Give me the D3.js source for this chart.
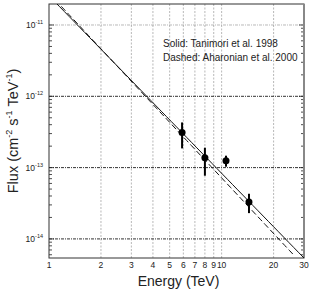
<!DOCTYPE html>
<html>
<head>
<meta charset="utf-8">
<script src="https://cdn.jsdelivr.net/npm/d3@7"></script>
<style>
  body { margin: 0; background: #fff; }
  text { font-family: "Liberation Sans", Arial, sans-serif; }
</style>
</head>
<body>
<script>
// data
var energy  = [5.9, 8.0, 10.6, 14.4]
var flux    = [3.1e-13, 1.38e-13, 1.25e-13, 3.3e-14]
var fluxLo  = [1.86e-13, 7.7e-14, 1.03e-13, 2.3e-14]
var fluxHi  = [4.3e-13, 1.9e-13, 1.47e-13, 4.3e-14]

// power laws: F = norm * E^-index
var solidFit  = { norm: 2.57e-11, index: 2.49, eMax: 30 }
var dashedFit = { norm: 2.79e-11, index: 2.59, eMax: 26.5 }

var xTicks = [1, 2, 3, 4, 5, 6, 7, 8, 9, 10, 20, 30]
var yDecades = [-11, -12, -13, -14]
var legendLines = ["Solid: Tanimori et al. 1998", "Dashed: Aharonian et al. 2000"]

var W = 313, H = 291
var m = { left: 49, right: 9, top: 4, bottom: 33 }
var w = W - m.left - m.right, h = H - m.top - m.bottom

var x = d3.scaleLog().domain([1, 30]).range([0, w])
var y = d3.scaleLog().domain([5.4e-15, 1.97e-11]).range([h, 0])

var svg = d3.select("body").append("svg")
    .attr("width", W).attr("height", H)
var g = svg.append("g").attr("transform", "translate(" + m.left + "," + m.top + ")")

g.append("clipPath").attr("id", "clip")
  .append("rect").attr("width", w).attr("height", h)

// vertical grid
g.append("g").selectAll("line")
  .data(xTicks.slice(1, -1))
  .enter().append("line")
    .attr("x1", d => x(d)).attr("x2", d => x(d))
    .attr("y1", 0).attr("y2", h)
    .style("stroke", "#999").style("stroke-width", 0.7)
    .style("stroke-dasharray", "2,1.5")

// horizontal grid at decades
g.append("g").selectAll("line")
  .data(yDecades)
  .enter().append("line")
    .attr("x1", 0).attr("x2", w)
    .attr("y1", d => y(Math.pow(10, d))).attr("y2", d => y(Math.pow(10, d)))
    .style("stroke", d => d == -11 ? "#999" : "#333")
    .style("stroke-width", d => d == -11 ? 0.7 : 1)
    .style("stroke-dasharray", "3,1,1,1")

// minor y ticks, both sides
var minors = []
for (var e = -15; e <= -11; e++)
  for (var k = 1; k < 10; k++) {
    var v = k * Math.pow(10, e)
    if (v >= y.domain()[0] && v <= y.domain()[1]) minors.push({ v: v, major: k == 1 })
  }
var tk = g.append("g")
minors.forEach(function(d) {
  var len = d.major ? 5 : 3
  tk.append("line").attr("x1", 0).attr("x2", len)
    .attr("y1", y(d.v)).attr("y2", y(d.v)).style("stroke", "#222").style("stroke-width", 0.8)
  tk.append("line").attr("x1", w).attr("x2", w - len)
    .attr("y1", y(d.v)).attr("y2", y(d.v)).style("stroke", "#222").style("stroke-width", 0.8)
})

// frame
g.append("rect").attr("width", w).attr("height", h)
  .style("fill", "none").style("stroke", "#333").style("stroke-width", 1)
g.append("line").attr("x1", w).attr("x2", w).attr("y1", 0).attr("y2", h)
  .style("stroke", "#888").style("stroke-width", 2)

// power-law lines
function lawPoints(f) {
  return d3.range(0, 51).map(function(i) {
    var e = Math.pow(f.eMax, i / 50)
    return [e, f.norm * Math.pow(e, -f.index)]
  })
}
var line = d3.line().x(d => x(d[0])).y(d => y(d[1]))
var lines = g.append("g").attr("clip-path", "url(#clip)")
lines.append("path").attr("d", line(lawPoints(solidFit)))
  .style("fill", "none").style("stroke", "#111").style("stroke-width", 1)
lines.append("path").attr("d", line(lawPoints(dashedFit)))
  .style("fill", "none").style("stroke", "#111").style("stroke-width", 1)
  .style("stroke-dasharray", "6,3")

// data points with error bars
var pts = energy.map(function(e, i) { return { e: e, f: flux[i], lo: fluxLo[i], hi: fluxHi[i] } })
g.append("g").selectAll("line")
  .data(pts).enter().append("line")
    .attr("x1", d => x(d.e)).attr("x2", d => x(d.e))
    .attr("y1", d => y(d.lo)).attr("y2", d => y(d.hi))
    .style("stroke", "#000").style("stroke-width", 2)
g.append("g").selectAll("circle")
  .data(pts).enter().append("circle")
    .attr("cx", d => x(d.e)).attr("cy", d => y(d.f)).attr("r", 3.5)
    .style("fill", "#000")

// x tick labels
g.append("g").selectAll("text")
  .data(xTicks).enter().append("text")
    .attr("x", d => x(d)).attr("y", h + 10)
    .attr("text-anchor", "middle")
    .attr("font-size", "8.5px").style("fill", "#222")
    .text(d => d)

// y tick labels
var yl = g.append("g").selectAll("text")
  .data(yDecades).enter().append("text")
    .attr("x", -6).attr("y", d => y(Math.pow(10, d)) + 3)
    .attr("text-anchor", "end")
    .attr("font-size", "8.5px").style("fill", "#222")
yl.append("tspan").text("10")
yl.append("tspan").attr("dy", -4).attr("font-size", "5.5px").text(d => d)

// legend
g.append("g").selectAll("text")
  .data(legendLines).enter().append("text")
    .attr("x", 114).attr("y", (d, i) => 43 + i * 14)
    .attr("font-size", "10px").style("fill", "#222")
    .text(d => d)

// axis titles
svg.append("text")
  .attr("x", m.left + w / 2 + 2).attr("y", 286)
  .attr("text-anchor", "middle").attr("font-size", "14px").style("fill", "#222")
  .text("Energy (TeV)")

var yt = svg.append("text")
  .attr("transform", "translate(18," + (m.top + h / 2) + ") rotate(-90)")
  .attr("text-anchor", "middle").attr("font-size", "14.5px").style("fill", "#222")
yt.append("tspan").text("Flux (cm")
yt.append("tspan").attr("dy", -6).attr("font-size", "9px").text("-2")
yt.append("tspan").attr("dy", 6).text(" s")
yt.append("tspan").attr("dy", -6).attr("font-size", "9px").text("-1")
yt.append("tspan").attr("dy", 6).text(" TeV")
yt.append("tspan").attr("dy", -6).attr("font-size", "9px").text("-1")
yt.append("tspan").attr("dy", 6).text(")")
</script>
</body>
</html>
